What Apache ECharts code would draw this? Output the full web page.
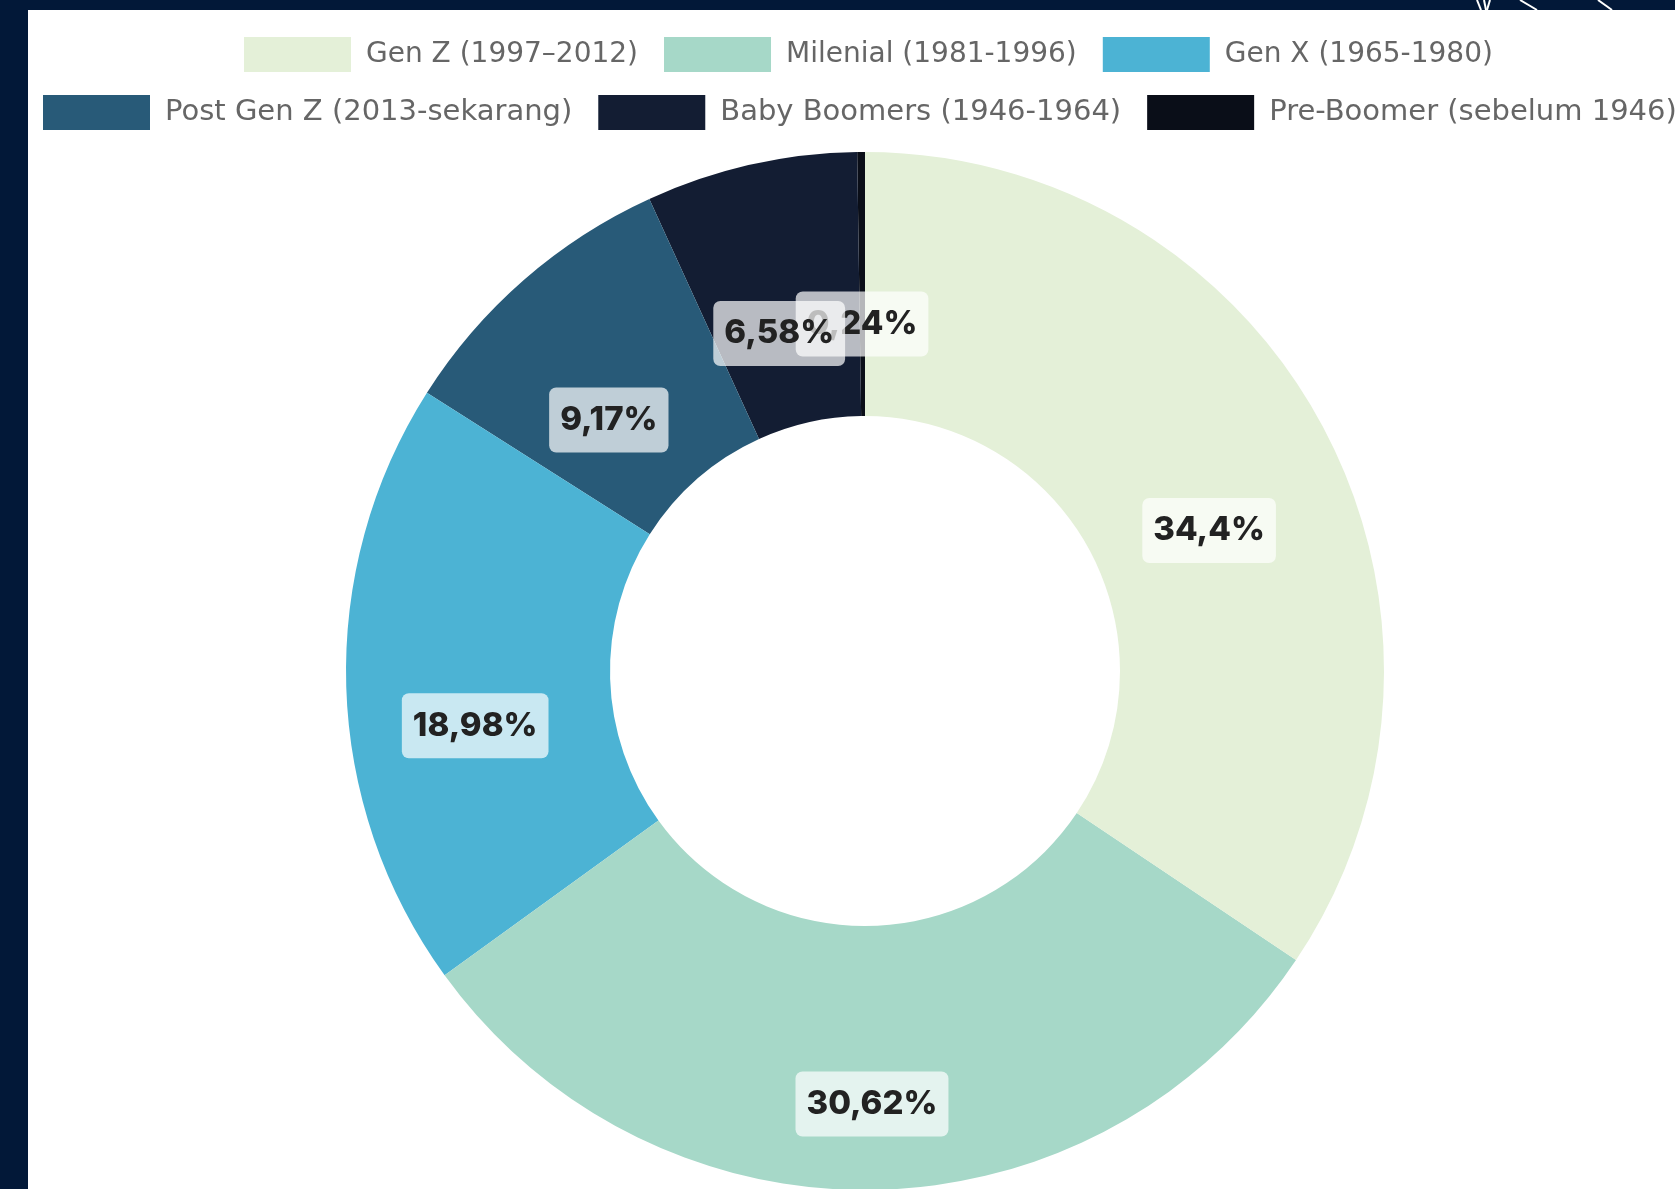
<!DOCTYPE html>
<html>
<head>
<meta charset="utf-8">
<script src="https://cdn.jsdelivr.net/npm/echarts@6/dist/echarts.min.js"></script>
<style>
  html, body { margin: 0; padding: 0; overflow: hidden; background: #021838; }
  #chart { width: 1675px; height: 1189px; }
</style>
</head>
<body>
<div id="chart"></div>
<script>
// generasi & persentase (urutan legenda, searah jarum jam dari atas)
const generations = [
  'Gen Z (1997–2012)',
  'Milenial (1981-1996)',
  'Gen X (1965-1980)',
  'Post Gen Z (2013-sekarang)',
  'Baby Boomers (1946-1964)',
  'Pre-Boomer (sebelum 1946)'
];
const shares = [34.4, 30.62, 18.98, 9.17, 6.58, 0.24];
const sliceColors = ['#e4f0d8', '#a6d8c8', '#4cb3d4', '#285a78', '#131d33', '#0a0e18'];

const chart = echarts.init(document.getElementById('chart'));

// drawn in reverse, counter-clockwise, so the later labels sit on top like the original
const pieData = generations.map((name, i) => ({
  name: name,
  value: shares[i],
  itemStyle: { color: sliceColors[i] }
})).reverse();

const legendBase = {
  orient: 'horizontal',
  padding: 0,
  itemWidth: 107,
  itemHeight: 35,
  itemGap: 26,
  icon: 'rect',
  width: 3000
};
const legendText = size => ({
  fontFamily: 'DejaVu Sans',
  fontSize: size,
  color: '#666',
  padding: [0, 0, 0, 10]
});

const option = {
  animation: false,
  backgroundColor: '#021838',
  color: sliceColors,
  graphic: [
    {
      type: 'rect',
      z: -10,
      shape: { x: 28, y: 10, width: 1700, height: 1250 },
      style: { fill: '#ffffff' }
    },
    { type: 'line', shape: { x1: 1477, y1: 0, x2: 1481, y2: 10 }, style: { stroke: '#fff', lineWidth: 2 } },
    { type: 'line', shape: { x1: 1484, y1: 0, x2: 1486, y2: 10 }, style: { stroke: '#fff', lineWidth: 2 } },
    { type: 'line', shape: { x1: 1490, y1: 0, x2: 1487, y2: 10 }, style: { stroke: '#fff', lineWidth: 2 } },
    { type: 'line', shape: { x1: 1520, y1: 0, x2: 1537, y2: 10 }, style: { stroke: '#fff', lineWidth: 2 } },
    { type: 'line', shape: { x1: 1598, y1: 0, x2: 1612, y2: 10 }, style: { stroke: '#fff', lineWidth: 2 } }
  ],
  legend: [
    Object.assign({}, legendBase, { left: 244, top: 37, textStyle: legendText(28), data: generations.slice(0, 3) }),
    Object.assign({}, legendBase, { left: 43, top: 95, textStyle: legendText(29), data: generations.slice(3) })
  ],
  series: [{
    type: 'pie',
    center: [865, 671],
    radius: [255, 519],
    startAngle: 90,
    clockwise: false,
    label: {
      show: true,
      position: 'inside',
      offset: [0, 43],
      fontFamily: 'Inter',
      fontWeight: 800,
      fontSize: 33,
      color: '#222',
      backgroundColor: 'rgba(255,255,255,0.7)',
      borderRadius: 7,
      padding: [16, 11],
      formatter: p => String(p.value).replace('.', ',') + '%'
    },
    labelLayout: { hideOverlap: false },
    labelLine: { show: false },
    emphasis: { disabled: true },
    data: pieData
  }]
};

chart.setOption(option);
</script>
</body>
</html>
